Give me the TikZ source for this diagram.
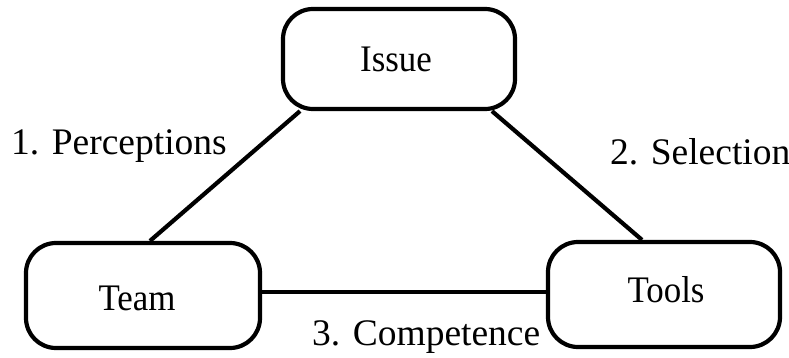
\documentclass[tikz,border=0pt]{standalone}
\usepackage{fontspec}
\setmainfont{Liberation Serif}
\newfontfamily\captionfont[FakeStretch=0.93]{Liberation Serif}
\begin{document}
\begin{tikzpicture}[x=1pt,y=-1pt,
  box/.style={draw=black, line width=4.2pt, rounded corners=30pt, inner sep=0pt},
  lbl/.style={font=\fontsize{37.5}{40}\selectfont, inner sep=0pt, anchor=base},
  boxcaption/.style={font=\captionfont\fontsize{37.5}{40}\selectfont, inner sep=0pt, anchor=base},
  link/.style={draw=black, line width=4.2pt}]
  \useasboundingbox (0,0) rectangle (789,358);
  % the three boxes
  \node[box, minimum width=232pt, minimum height=100pt] (issue) at (399,59) {};
  \node[box, minimum width=234pt, minimum height=105pt] (team)  at (143,295.5) {};
  \node[box, minimum width=232pt, minimum height=105pt] (tools) at (664,294.5) {};
  % box captions
  \node[boxcaption] (issuetxt) at (396,72) {Issue};
  \node[boxcaption] (teamtxt)  at (137,310) {Team};
  \node[boxcaption] (toolstxt) at (666,302) {Tools};
  % connectors
  \coordinate (hl) at (0,292);
  \draw[link] ([xshift=-99pt]issue.south) -- ([xshift=7pt]team.north);
  \draw[link] ([xshift=93pt]issue.south) -- ([xshift=-22pt]tools.north);
  \draw[link] (team.east |- hl) -- (tools.west |- hl);
  % connector labels
  \node[lbl, anchor=base west] (l1) at (11,155) {1. Perceptions};
  \node[lbl, anchor=base west] (l2) at (610,165) {2. Selection};
  \node[lbl, anchor=base west] (l3) at (312,345) {3. Competence};
\end{tikzpicture}
\end{document}
